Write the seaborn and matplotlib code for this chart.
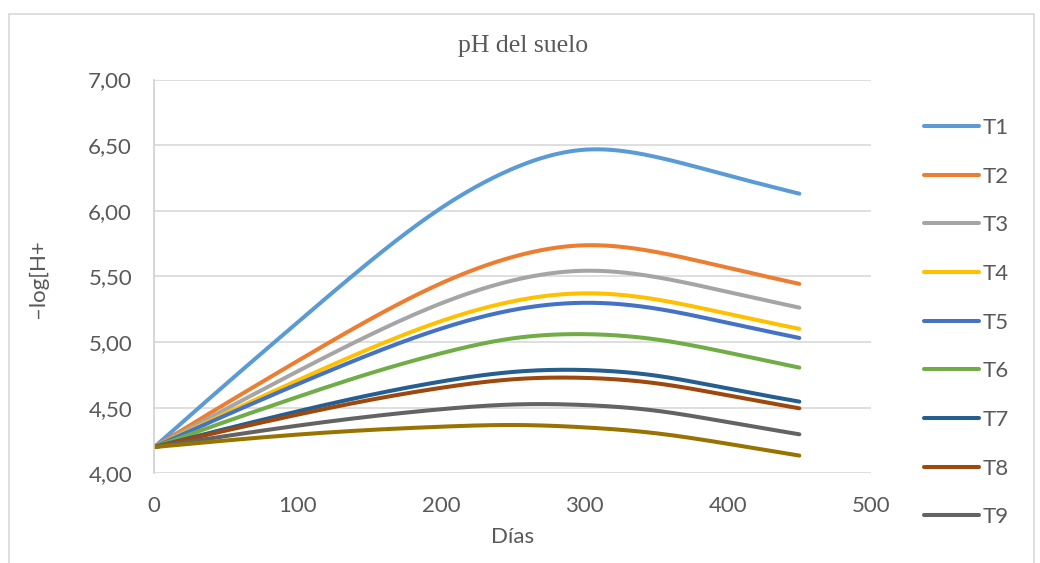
import numpy as np
import pandas as pd
import matplotlib
matplotlib.use("Agg")
import matplotlib.pyplot as plt
from matplotlib.patches import Rectangle
from matplotlib.lines import Line2D
import seaborn as sns

# ---------------- data ----------------
days = [0, 50, 100, 150, 200, 250, 300, 350, 400, 450]
T1 = [4.20, 4.68, 5.15, 5.61, 6.02, 6.32, 6.465, 6.41, 6.27, 6.13]
T2 = [4.20, 4.532, 4.856, 5.170, 5.447, 5.648, 5.737, 5.686, 5.566, 5.443]
T3 = [4.20, 4.49, 4.777, 5.052, 5.294, 5.469, 5.543, 5.495, 5.382, 5.262]
T4 = [4.20, 4.457, 4.708, 4.948, 5.159, 5.310, 5.371, 5.325, 5.215, 5.10]
T5 = [4.20, 4.443, 4.679, 4.904, 5.102, 5.244, 5.299, 5.255, 5.146, 5.031]
T6 = [4.20, 4.394, 4.582, 4.760, 4.914, 5.028, 5.060, 5.020, 4.920, 4.805]
T7 = [4.20, 4.339, 4.472, 4.595, 4.699, 4.772, 4.787, 4.744, 4.646, 4.546]
T8 = [4.20, 4.326, 4.447, 4.558, 4.651, 4.716, 4.727, 4.686, 4.594, 4.495]
T9 = [4.20, 4.284, 4.363, 4.432, 4.488, 4.524, 4.520, 4.477, 4.390, 4.297]
T10 = [4.20, 4.25, 4.295, 4.33, 4.355, 4.368, 4.35, 4.305, 4.225, 4.135]

series_names = ["T1", "T2", "T3", "T4", "T5", "T6", "T7", "T8", "T9", "T10"]
series_values = [T1, T2, T3, T4, T5, T6, T7, T8, T9, T10]
legend_names = series_names[:9]          # Excel legend is truncated after T9
colors = ["#5B9BD5", "#ED7D31", "#A5A5A5", "#FFC000", "#4472C4",
          "#70AD47", "#255E91", "#9E480E", "#636363", "#997300"]
x_ticks = [0, 100, 200, 300, 400, 500]
y_ticks = [4.0, 4.5, 5.0, 5.5, 6.0, 6.5, 7.0]
y_tick_labels = ["4,00", "4,50", "5,00", "5,50", "6,00", "6,50", "7,00"]
title = "pH del suelo"
x_label = "Días"
y_label = "–log[H+"


# smooth rendering through the data points (natural cubic spline)
def smooth(x, y, n=40):
    x = np.asarray(x, float)
    y = np.asarray(y, float)
    k = len(x)
    h = np.diff(x)
    A = np.zeros((k, k))
    r = np.zeros(k)
    A[0, 0] = A[-1, -1] = 1.0
    for i in range(1, k - 1):
        A[i, i - 1] = h[i - 1]
        A[i, i] = 2 * (h[i - 1] + h[i])
        A[i, i + 1] = h[i]
        r[i] = 6 * ((y[i + 1] - y[i]) / h[i] - (y[i] - y[i - 1]) / h[i - 1])
    M = np.linalg.solve(A, r)
    xs, ys = [], []
    for i in range(k - 1):
        t = np.linspace(x[i], x[i + 1], n, endpoint=(i == k - 2))
        a = x[i + 1] - t
        b = t - x[i]
        s = (M[i] * a**3 / (6 * h[i]) + M[i + 1] * b**3 / (6 * h[i])
             + (y[i] / h[i] - M[i] * h[i] / 6) * a
             + (y[i + 1] / h[i] - M[i + 1] * h[i] / 6) * b)
        xs.append(t)
        ys.append(s)
    return np.concatenate(xs), np.concatenate(ys)


rows = []
for name, vals in zip(series_names, series_values):
    xs, ys = smooth(days, vals)
    rows.append(pd.DataFrame({"Días": xs, "pH": ys, "Serie": name}))
df = pd.concat(rows, ignore_index=True)

sns.set_theme(style="white")
plt.rcParams["font.family"] = ["Lato", "DejaVu Sans"]

W, H = 1040, 563
fig = plt.figure(figsize=(W / 100, H / 100), dpi=100)
fig.patch.set_facecolor("white")

x0, x1 = 154.3, 871.0
y0, y1 = 79.5, 473.3
ax = fig.add_axes([x0 / W, 1 - y1 / H, (x1 - x0) / W, (y1 - y0) / H])

sns.lineplot(data=df, x="Días", y="pH", hue="Serie", palette=colors,
             hue_order=series_names, linewidth=2.9, sort=False,
             estimator=None, legend=False, ax=ax,
             solid_capstyle="round")

ax.set_xlim(0, 500)
ax.set_ylim(4.0, 7.0)
ax.set_xticks(x_ticks)
ax.set_xticklabels([str(v) for v in x_ticks])
ax.set_yticks(y_ticks)
ax.set_yticklabels(y_tick_labels)
ax.tick_params(axis="both", length=0, labelsize=16, colors="#595959", pad=16)
ax.yaxis.grid(True, color="#D9D9D9", linewidth=1.2)
ax.xaxis.grid(False)
ax.set_axisbelow(True)
for s in ["top", "right", "bottom"]:
    ax.spines[s].set_visible(False)
ax.spines["left"].set_color("#D0D0D0")
ax.spines["left"].set_linewidth(1.2)

ax.set_xlabel(x_label, fontsize=16, color="#595959")
ax.xaxis.set_label_coords(0.5, (y1 - 537) / (y1 - y0))
ax.xaxis.label.set_va("center")
ax.set_ylabel(y_label, fontsize=16, color="#595959")
ax.yaxis.set_label_coords((38 - x0) / (x1 - x0), (y1 - 279) / (y1 - y0))
ax.yaxis.label.set_va("center")

ax.set_title(title, fontfamily=["Liberation Serif", "DejaVu Serif"],
             fontsize=18.5, color="#595959", pad=0,
             x=(523 - x0) / (x1 - x0), y=(y1 - 45.6) / (y1 - y0), va="center")

handles = [Line2D([0], [0], color=c, lw=2.9, solid_capstyle="round")
           for c in colors[:9]]
fig.legend(handles, legend_names, loc="upper left",
           bbox_to_anchor=(915 / W, 1 - 109 / H), frameon=False,
           fontsize=16, labelcolor="#595959", handlelength=2.48,
           handletextpad=0.15, labelspacing=1.29, borderaxespad=0)

fig.add_artist(Rectangle((9 / W, -0.05), (1034 - 9) / W, 1 - 14 / H + 0.05,
                         transform=fig.transFigure, fill=False,
                         edgecolor="#D9D9D9", linewidth=1.2))

fig.savefig("out.png", dpi=100)
